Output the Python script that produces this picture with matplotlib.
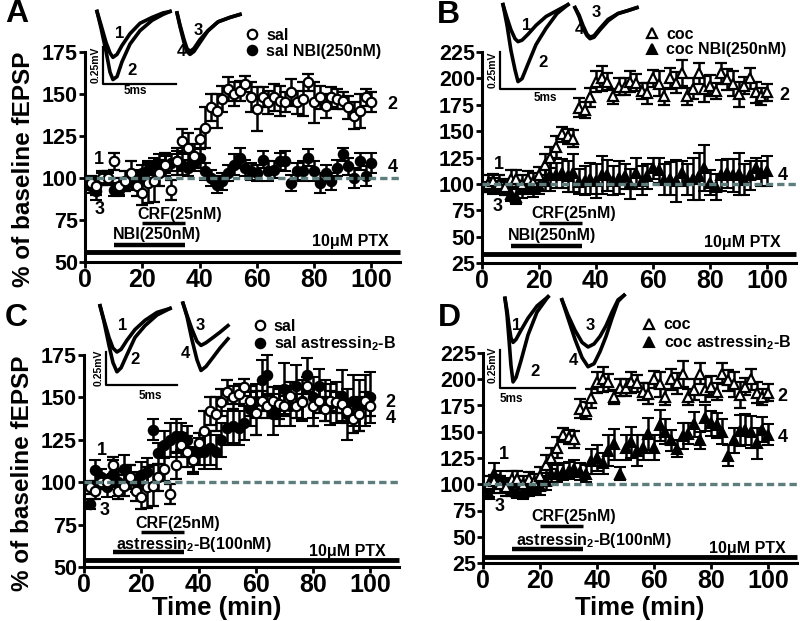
import matplotlib
matplotlib.use("Agg")
import matplotlib.pyplot as plt
from matplotlib.lines import Line2D

plt.rcParams['font.family'] = ['Liberation Sans', 'DejaVu Sans']
plt.rcParams['font.weight'] = 'bold'
plt.rcParams['mathtext.fontset'] = 'custom'
plt.rcParams['mathtext.rm'] = 'Liberation Sans:bold'
plt.rcParams['mathtext.bf'] = 'Liberation Sans:bold'
plt.rcParams['mathtext.default'] = 'rm'

# ---------------- data ----------------
TIME = [2, 4, 6, 8, 10, 12, 14, 16, 18, 20, 22, 24, 26, 28, 30, 32, 34, 36, 38, 40,
        42, 44, 46, 48, 50, 52, 54, 56, 58, 60, 62, 64, 66, 68, 70, 72, 74, 76, 78, 80,
        82, 84, 86, 88, 90, 92, 94, 96, 98, 100]

sal = [97, 95, 100, 100, 110, 95, 98, 103, 95, 91, 97, 98, 103, 108, 93, 110, 122, 118, 113, 123,
       130, 142, 140, 147, 153, 150, 152, 156, 148, 141, 148, 145, 148, 146, 145, 151, 145, 147, 157, 145,
       148, 143, 148, 147, 146, 142, 137, 140, 148, 145]
sal_err = [4, 5, 4, 4, 5, 5, 6, 7, 6, 7, 12, 12, 8, 7, 6, 8, 7, 9, 7, 6,
           12, 8, 10, 8, 7, 7, 6, 5, 9, 13, 6, 7, 8, 9, 6, 8, 7, 10, 5, 12,
           7, 7, 6, 6, 5, 7, 8, 10, 5, 6]

sal_nbi = [95, 92, 100, 100, 93, 93, 96, 98, 100, 103, 105, 107, 108, 108, 109, 110, 108, 106, 109, 112,
           104, 100, 96, 98, 103, 108, 112, 106, 104, 103, 111, 104, 105, 110, 110, 97, 104, 104, 112, 104,
           97, 103, 98, 106, 114, 107, 100, 110, 101, 109]
sal_nbi_err = [4, 5, 3, 3, 4, 4, 4, 5, 5, 5, 5, 5, 6, 5, 5, 6, 6, 5, 5, 6,
               5, 5, 5, 5, 5, 6, 6, 5, 5, 5, 5, 6, 5, 5, 6, 5, 5, 6, 5, 6,
               6, 5, 5, 5, 4, 5, 6, 5, 6, 6]

coc = [100, 103, 100, 97, 105, 105, 100, 105, 102, 108, 118, 125, 135, 147, 145, 143, 172, 170, 182, 197,
       200, 197, 183, 192, 192, 197, 196, 188, 186, 200, 195, 183, 200, 196, 205, 183, 190, 205, 190, 193,
       188, 205, 199, 195, 185, 193, 200, 187, 183, 187]
coc_err = [8, 6, 8, 8, 8, 8, 8, 7, 8, 8, 10, 10, 10, 7, 7, 8, 9, 8, 9, 10,
           12, 8, 7, 8, 8, 10, 8, 8, 10, 8, 12, 8, 10, 10, 12, 8, 10, 10, 12, 10,
           8, 10, 10, 12, 12, 8, 10, 10, 8, 8]

coc_nbi = [97, 98, 97, 96, 90, 88, 95, 96, 96, 98, 103, 108, 108, 110, 107, 110, 102, 103, 105, 103,
           108, 108, 103, 106, 107, 100, 110, 103, 107, 115, 113, 104, 105, 103, 110, 104, 105, 107, 115, 101,
           97, 108, 110, 108, 109, 104, 108, 115, 110, 112]
coc_nbi_err = [5, 8, 6, 6, 6, 7, 8, 6, 8, 8, 10, 15, 12, 14, 15, 18, 12, 14, 15, 16,
               18, 15, 14, 16, 12, 14, 15, 14, 12, 10, 12, 15, 16, 20, 12, 15, 20, 22, 22, 12,
               12, 15, 14, 16, 20, 15, 14, 10, 12, 14]

sal_ast = [87, 107, 103, 97, 105, 100, 108, 103, 100, 104, 106, 131, 117, 122, 125, 127, 127, 125, 113, 118,
           118, 120, 118, 125, 132, 133, 132, 135, 143, 148, 160, 163, 140, 145, 155, 145, 157, 148, 163, 150,
           157, 148, 146, 147, 151, 140, 148, 145, 148, 150]
sal_ast_err = [3, 6, 5, 6, 8, 8, 8, 7, 6, 8, 8, 6, 6, 8, 10, 10, 8, 8, 8, 8,
               10, 10, 10, 10, 10, 10, 10, 10, 10, 10, 12, 12, 12, 12, 15, 12, 12, 12, 10, 12,
               10, 12, 12, 12, 15, 15, 15, 15, 15, 15]

coc_ast = [91, 110, 105, 100, 95, 93, 93, 95, 96, 98, 103, 110, 110, 112, 113, 115, 112, 110, 122, 125,
           120, 132, 138, 110, 135, 140, 132, 135, 148, 135, 156, 150, 142, 134, 146, 148, 157, 142, 163, 158,
           156, 150, 127, 142, 151, 152, 150, 139, 152, 147]
coc_ast_err = [3, 10, 8, 6, 6, 6, 7, 6, 6, 8, 8, 8, 8, 8, 8, 8, 8, 8, 12, 12,
               10, 15, 15, 6, 12, 15, 15, 12, 15, 12, 15, 12, 10, 8, 12, 10, 12, 8, 12, 12,
               12, 12, 10, 12, 15, 15, 15, 15, 12, 10]

# drug application windows (min)
CRF_WIN = (20, 35)
ANTAG_WIN = (10, 35)
PTX_WIN = (0, 110)

# example traces (ms, mV) relative to scale-bar corner
TR = {
 'A': {
  't12': [-0.41, -0.14, 0.21, 0.48, 0.68, 0.96, 1.30, 1.85, 2.53, 3.36, 4.11, 4.59],
  'v1': [0.49, 0.40, 0.28, 0.21, 0.18, 0.20, 0.26, 0.34, 0.41, 0.45, 0.48, 0.49],
  'v2': [0.49, 0.38, 0.22, 0.08, 0.03, 0.05, 0.15, 0.27, 0.36, 0.43, 0.47, 0.49],
  't34': [5.07, 5.27, 5.55, 5.75, 5.96, 6.23, 6.64, 7.19, 7.88, 8.70, 9.38],
  'v3': [0.48, 0.40, 0.30, 0.24, 0.22, 0.24, 0.30, 0.36, 0.42, 0.45, 0.47],
  'v4': [0.48, 0.39, 0.28, 0.22, 0.20, 0.22, 0.28, 0.36, 0.42, 0.45, 0.47]},
 'B': {
  't12': [0.2, 0.47, 0.73, 1.0, 1.2, 1.47, 1.87, 2.4, 3.07, 3.8, 4.53],
  'v1': [0.57, 0.48, 0.40, 0.34, 0.32, 0.33, 0.37, 0.43, 0.49, 0.53, 0.57],
  'v2': [0.57, 0.43, 0.26, 0.13, 0.05, 0.07, 0.17, 0.30, 0.41, 0.51, 0.57],
  't34': [5.0, 5.27, 5.53, 5.8, 6.0, 6.27, 6.67, 7.2, 7.87, 8.53, 9.13],
  'v3': [0.55, 0.50, 0.43, 0.37, 0.35, 0.36, 0.41, 0.47, 0.51, 0.53, 0.55],
  'v4': [0.55, 0.49, 0.41, 0.36, 0.34, 0.35, 0.40, 0.46, 0.51, 0.53, 0.55]},
 'C': {
  't12': [-0.42, -0.14, 0.21, 0.49, 0.77, 1.06, 1.48, 2.04, 2.75, 3.59, 4.51],
  'v1': [0.60, 0.49, 0.36, 0.28, 0.25, 0.27, 0.34, 0.42, 0.49, 0.55, 0.58],
  'v2': [0.60, 0.48, 0.30, 0.17, 0.10, 0.13, 0.23, 0.36, 0.45, 0.53, 0.58],
  't34': [5.42, 5.70, 6.06, 6.41, 6.69, 7.04, 7.54, 8.03, 8.59],
  'v3': [0.62, 0.53, 0.42, 0.33, 0.30, 0.32, 0.36, 0.40, 0.45],
  'v4': [0.62, 0.52, 0.34, 0.19, 0.11, 0.14, 0.21, 0.28, 0.35]},
 'D': {
  't12': [0.33, 0.47, 0.6, 0.73, 0.87, 1.07, 1.4, 1.87, 2.47, 3.2],
  'v1': [0.59, 0.51, 0.41, 0.33, 0.30, 0.32, 0.38, 0.46, 0.54, 0.60],
  'v2': [0.59, 0.48, 0.32, 0.15, 0.04, 0.07, 0.18, 0.35, 0.50, 0.60],
  't34': [4.13, 4.53, 5.0, 5.47, 5.87, 6.27, 6.67, 7.07, 7.47, 7.87, 8.27],
  'v3': [0.58, 0.48, 0.38, 0.30, 0.27, 0.29, 0.34, 0.41, 0.50, 0.58, 0.61],
  'v4': [0.58, 0.46, 0.32, 0.20, 0.14, 0.16, 0.24, 0.34, 0.46, 0.57, 0.61]},
}

# ---------------- figure ----------------
W, H = 800, 621
fig = plt.figure(figsize=(8, 6.21), dpi=100)

def frac(l, t, r, b):
    return [l / W, 1 - b / H, (r - l) / W, (b - t) / H]

DASH_COLOR = '#5e7e7e'

panels = {
 'A': dict(rect=frac(85, 52, 400, 262), ylim=(50, 175), yt=[50, 75, 100, 125, 150, 175],
           open=(sal, sal_err, 'o', 'sal'), fill=(sal_nbi, sal_nbi_err, 'o', 'sal NBI(250nM)'),
           antag='NBI(250nM)', nums=[('1', 5, 111), ('3', 5, 81), ('2', 107.5, 144), ('4', 107.5, 106)],
           crf_txt=(33, 78), crf_bar=73, ant_txt=(25, 66.5), ant_bar=60, ptx_txt=(92.5, 62), ptx_bar=56,
           leg=(0.51, 1.115), letter=(5, 14), ylabel=True, xlabel=None,
           tr=dict(c=(103, 84), pms=14.6, pmv=148, lab={'1': (1.16, 0.34), '2': (1.99, 0.09), '3': (6.5, 0.36), '4': (5.4, 0.22)},
                   mv=(-0.48, 0.13), ms=(2.2, -0.05))),
 'B': dict(rect=frac(482, 52, 795.5, 263), ylim=(25, 225), yt=[25, 50, 75, 100, 125, 150, 175, 200, 225],
           open=(coc, coc_err, '^', 'coc'), fill=(coc_nbi, coc_nbi_err, '^', 'coc NBI(250nM)'),
           antag='NBI(250nM)', nums=[('1', 6, 118), ('3', 5.5, 78.6), ('2', 106, 184), ('4', 105.5, 108)],
           crf_txt=(32, 72), crf_bar=63, ant_txt=(24.4, 51.5), ant_bar=41, ptx_txt=(91.4, 44.5), ptx_bar=34,
           leg=(0.522, 1.12), letter=(437, 15), ylabel=False, xlabel=None,
           tr=dict(c=(500, 89), pms=15, pmv=148, lab={'1': (1.8, 0.43), '2': (2.87, 0.18), '3': (6.4, 0.52), '4': (5.27, 0.40)},
                   mv=(-0.48, 0.13), ms=(3.0, -0.06))),
 'C': dict(rect=frac(84, 355, 399, 567), ylim=(50, 175), yt=[50, 75, 100, 125, 150, 175],
           open=(sal, sal_err, 'o', 'sal'), fill=(sal_ast, sal_ast_err, 'o', r'sal astressin$_2$-B'),
           antag=r'astressin$_2$-B(100nM)', nums=[('1', 6.3, 118.7), ('3', 7.3, 83.6), ('2', 107, 147), ('4', 107, 137.6)],
           crf_txt=(32.7, 75.8), crf_bar=70.8, ant_txt=(38.5, 63.3), ant_bar=59, ptx_txt=(92.1, 59), ptx_bar=54,
           leg=(0.537, 1.17), letter=(5, 318), ylabel=True, xlabel=(0.42, -0.135),
           tr=dict(c=(106, 385), pms=14.2, pmv=132, lab={'1': (1.2, 0.45), '2': (2.04, 0.19), '3': (6.62, 0.45), '4': (5.56, 0.24)},
                   mv=(-0.5, 0.13), ms=(3.1, -0.08))),
 'D': dict(rect=frac(483, 353, 796.5, 563), ylim=(25, 225), yt=[25, 50, 75, 100, 125, 150, 175, 200, 225],
           open=(coc, coc_err, '^', 'coc'), fill=(coc_ast, coc_ast_err, '^', r'coc astressin$_2$-B'),
           antag=r'astressin$_2$-B(100nM)', nums=[('1', 7.4, 128), ('3', 5.7, 79), ('2', 105, 184), ('4', 105, 145)],
           crf_txt=(31.9, 69.2), crf_bar=60.4, ant_txt=(38.9, 46.5), ant_bar=38.7, ptx_txt=(92.9, 39), ptx_bar=31,
           leg=(0.51, 1.17), letter=(438, 318), ylabel=False, xlabel=(0.50, -0.155),
           tr=dict(c=(500, 388), pms=15, pmv=152, lab={'1': (1.13, 0.41), '2': (2.33, 0.11), '3': (6.0, 0.41), '4': (4.87, 0.18)},
                   mv=(-0.48, 0.15), ms=(0.73, -0.07))),
}

for key, p in panels.items():
    ax = fig.add_axes(p['rect'])
    ax.set_xlim(0, 110)
    ax.set_ylim(*p['ylim'])
    for s in ['top', 'right']:
        ax.spines[s].set_visible(False)
    for s in ['left', 'bottom']:
        ax.spines[s].set_linewidth(2.2)
    ax.set_xticks([0, 20, 40, 60, 80, 100])
    ax.set_yticks(p['yt'])
    ax.tick_params(axis='both', width=2, length=4, direction='out')
    ax.tick_params(axis='x', labelsize=18, pad=0.5)
    ax.tick_params(axis='y', labelsize=15.5, pad=1)
    for lab in ax.get_xticklabels() + ax.get_yticklabels():
        lab.set_fontweight('bold')

    fv, fe, fm, fl = p['fill']
    ov, oe, om, ol = p['open']
    msz = 6.8 if fm == 'o' else 7.8
    ax.errorbar(TIME, fv, yerr=fe, fmt=fm, ms=msz, mfc='black', mec='black', mew=1.5,
                ecolor='black', elinewidth=1.8, capsize=4, capthick=1.8, zorder=3, clip_on=False)
    ax.errorbar(TIME, ov, yerr=oe, fmt=om, ms=msz, mfc='white', mec='black', mew=1.6,
                ecolor='black', elinewidth=1.8, capsize=4, capthick=1.8, zorder=4, clip_on=False)
    ax.axhline(100, color=DASH_COLOR, lw=2.4, ls=(0, (2.2, 1.2)), zorder=6)

    # drug bars
    ax.plot(CRF_WIN, [p['crf_bar']] * 2, color='black', lw=2.5, solid_capstyle='butt')
    ax.plot(ANTAG_WIN, [p['ant_bar']] * 2, color='black', lw=3.2, solid_capstyle='butt')
    ax.plot(PTX_WIN, [p['ptx_bar']] * 2, color='black', lw=3.5, solid_capstyle='butt', clip_on=False)
    ax.text(*p['crf_txt'], 'CRF(25nM)', ha='center', va='center', fontsize=11.5, fontweight='bold')
    ax.text(*p['ant_txt'], p['antag'], ha='center', va='center', fontsize=11.5, fontweight='bold')
    ax.text(*p['ptx_txt'], '10μM PTX', ha='center', va='center', fontsize=11.5, fontweight='bold')

    for t, x, y in p['nums']:
        ax.text(x, y, t, ha='center', va='center', fontsize=13, fontweight='bold', clip_on=False)

    # legend
    handles = [Line2D([], [], ls='none', marker=om, ms=msz, mfc='white', mec='black', mew=1.6),
               Line2D([], [], ls='none', marker=fm, ms=msz, mfc='black', mec='black', mew=1.5)]
    ax.legend(handles, [ol, fl], loc='upper left', bbox_to_anchor=p['leg'], frameon=False,
              prop={'size': 11.5, 'weight': 'bold'}, handlelength=0.8, handletextpad=0.5,
              labelspacing=0.05, borderpad=0, borderaxespad=0)

    if p['ylabel']:
        ax.set_ylabel('% of baseline fEPSP', fontsize=17.5, fontweight='bold')
        ax.yaxis.set_label_coords(-0.158, 0.44)
    if p['xlabel']:
        ax.set_xlabel('Time (min)', fontsize=18.5, fontweight='bold')
        ax.xaxis.set_label_coords(*p['xlabel'])

    fig.text(p['letter'][0] / W, 1 - p['letter'][1] / H, key, fontsize=23, fontweight='bold',
             ha='left', va='center')

    # traces inset
    tr = p['tr']
    cx, cy = tr['c']
    pms, pmv = tr['pms'], tr['pmv']
    x0, x1, y0, y1 = -1.5, 10.5, -0.22, 0.75
    iax = fig.add_axes(frac(cx + x0 * pms, cy - y1 * pmv, cx + x1 * pms, cy - y0 * pmv))
    iax.set_xlim(x0, x1)
    iax.set_ylim(y0, y1)
    iax.axis('off')
    iax.patch.set_alpha(0)
    d = TR[key]
    for tk, vk in [('t12', 'v1'), ('t12', 'v2'), ('t34', 'v3'), ('t34', 'v4')]:
        iax.plot(d[tk], d[vk], color='black', lw=2.6, solid_joinstyle='round', clip_on=False)
    iax.plot([0, 0, 5], [0.25, 0, 0], color='black', lw=1.6, clip_on=False)
    iax.text(tr['mv'][0], tr['mv'][1], '0.25mV', rotation=90, ha='center', va='center', fontsize=7.5,
             fontweight='bold')
    iax.text(tr['ms'][0], tr['ms'][1], '5ms', ha='center', va='center', fontsize=8.5, fontweight='bold')
    for t, (x, y) in tr['lab'].items():
        iax.text(x, y, t, ha='center', va='center', fontsize=12, fontweight='bold', clip_on=False)

fig.savefig('out.png', dpi=100)
